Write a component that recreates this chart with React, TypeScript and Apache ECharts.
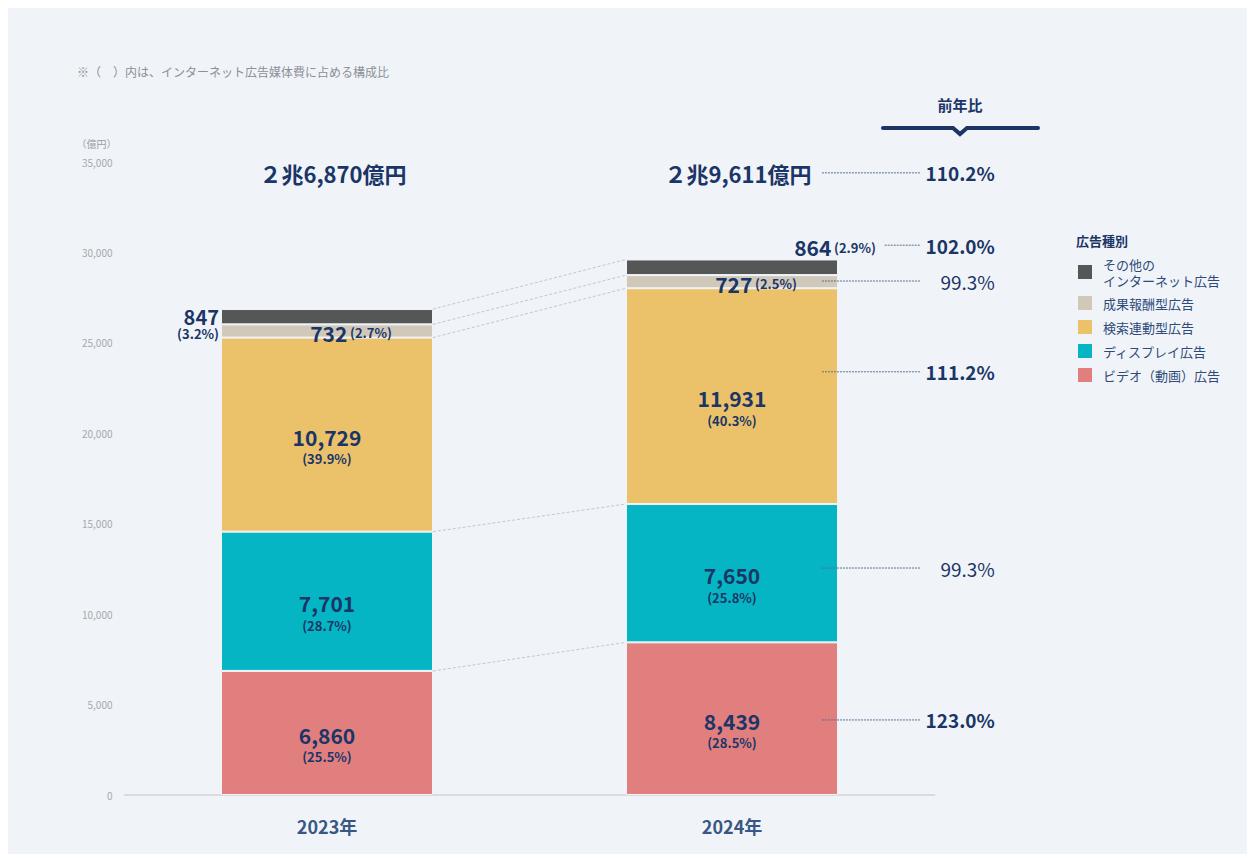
import React, { useEffect, useRef } from "react";
import * as echarts from "echarts";

// ---------- data ----------
const years = ["2023年", "2024年"];
const seriesNames = [
  "ビデオ（動画）広告",
  "ディスプレイ広告",
  "検索連動型広告",
  "成果報酬型広告",
  "その他のインターネット広告",
];
const video = [6860, 8439];
const display = [7701, 7650];
const search = [10729, 11931];
const performance = [732, 727];
const other = [847, 864];

const videoShare = ["25.5%", "28.5%"];
const displayShare = ["28.7%", "25.8%"];
const searchShare = ["39.9%", "40.3%"];
const performanceShare = ["2.7%", "2.5%"];
const otherShare = ["3.2%", "2.9%"];

const totalLabels = ["２兆6,870億円", "２兆9,611億円"];
// order: video, display, search, performance, other, total
const yoyLabels = ["123.0%", "99.3%", "111.2%", "99.3%", "102.0%", "110.2%"];
const yoyBold = [true, false, true, false, true, true];

// ---------- layout constants ----------
const NAVY = "#1b3567";
const FONT = "Noto Sans CJK JP";
const colors = ["#e07f7e", "#05b5c4", "#ebc26a", "#d0c9b9", "#555656"];
const BAR_HALF = 106 / 405;
const EDGE_2023_R = 0.5 + BAR_HALF;
const EDGE_2024_L = 1.5 - BAR_HALF;
const yoyAnchorY = [4150, 12550, 23400, 28420, 30400, 34400];
const yoyLineStart = [1.722, 1.722, 1.722, 1.722, 1.877, 1.722];
const YOY_LINE_END = 1.964;
const YOY_TEXT_X = 2.149;
const TOTAL_LABEL_Y = 34400;

const fmt = (v: number) => v.toLocaleString("en-US");

const rich = {
  v: { fontSize: 21, fontWeight: "bold", color: NAVY, lineHeight: 24, fontFamily: FONT },
  p: { fontSize: 13, fontWeight: "bold", color: NAVY, lineHeight: 20, fontFamily: FONT },
  vs: { fontSize: 20, fontWeight: "bold", color: NAVY, lineHeight: 20, fontFamily: FONT },
  ps: { fontSize: 13, fontWeight: "bold", color: NAVY, lineHeight: 15, fontFamily: FONT },
};

const bigLabel = (v: number, share: string) => ({
  show: true,
  position: "inside",
  offset: [0, 12],
  formatter: `{v|${fmt(v)}}\n{p|(${share})}`,
  rich,
});

const inlineLabel = (v: number, share: string, extra: any) => ({
  show: true,
  formatter: `{v|${fmt(v)}} {p|(${share})}`,
  rich,
  ...extra,
});

export default function App() {
  const ref = useRef<HTMLDivElement>(null);

  useEffect(() => {
    if (!ref.current) return;
    const chart = echarts.init(ref.current, null, { renderer: "svg" });

    const stacks = [video, display, search, performance, other];
    const cum: number[][] = [];
    let acc = [0, 0];
    stacks.forEach((s) => {
      acc = [acc[0] + s[0], acc[1] + s[1]];
      cum.push(acc.slice());
    });

    const barData = [
      video.map((v, i) => ({ value: v, label: bigLabel(v, videoShare[i]) })),
      display.map((v, i) => ({ value: v, label: bigLabel(v, displayShare[i]) })),
      search.map((v, i) => ({ value: v, label: bigLabel(v, searchShare[i]) })),
      performance.map((v, i) => ({
        value: v,
        label: inlineLabel(v, performanceShare[i], { position: "inside", offset: [24, 2] }),
      })),
      [
        {
          value: other[0],
          label: {
            show: true,
            position: "left",
            distance: 2,
            offset: [0, 7],
            formatter: `{vs|${fmt(other[0])}}\n{ps|(${otherShare[0]})}`,
            rich,
          },
        },
        {
          value: other[1],
          label: inlineLabel(other[1], otherShare[1], { position: "top", distance: 0, offset: [103, 0] }),
        },
      ],
    ];

    const barSeries = seriesNames.map((name, k) => ({
      name,
      type: "bar",
      stack: "total",
      barWidth: 212,
      xAxisIndex: 0,
      yAxisIndex: 0,
      itemStyle: { color: colors[k], borderColor: "#f0f4f8", borderWidth: 1 },
      data: barData[k],
      z: 2,
    }));

    const connectorData = cum.map((c) => [EDGE_2023_R, c[0], EDGE_2024_L, c[1]]);
    const yoyData = yoyAnchorY.map((y, i) => [yoyLineStart[i], y, YOY_LINE_END]);
    const totalData = totalLabels.map((_t, i) => [i, TOTAL_LABEL_Y]);

    const option: any = {
      animation: false,
      textStyle: { fontFamily: FONT },
      grid: { left: 116.5, top: 154, width: 810, height: 633, containLabel: false },
      xAxis: [
        {
          type: "category",
          data: years,
          axisLine: { lineStyle: { color: "#d8dce1", width: 2 } },
          axisTick: { show: false },
          axisLabel: { fontSize: 18, fontWeight: "bold", color: "#3a5684", margin: 22, fontFamily: FONT },
          splitLine: { show: false },
        },
        { type: "value", min: 0, max: 2, show: false },
      ],
      yAxis: {
        type: "value",
        min: 0,
        max: 35000,
        interval: 5000,
        name: "（億円）",
        nameLocation: "end",
        nameGap: 14,
        nameTextStyle: { color: "#9a9ea4", fontSize: 10, align: "right", padding: [0, 8, 0, 0], fontFamily: FONT },
        axisLine: { show: false },
        axisTick: { show: false },
        splitLine: { show: false },
        axisLabel: {
          fontSize: 10,
          color: "#a4a8ad",
          margin: 12,
          fontFamily: FONT,
          formatter: (v: number) => fmt(v),
        },
      },
      legend: {
        orient: "vertical",
        left: 1068,
        top: 248,
        padding: 0,
        itemWidth: 16,
        itemHeight: 16,
        itemGap: 6,
        icon: "rect",
        data: [...seriesNames].reverse(),
        formatter: (n: string) => (n === seriesNames[4] ? "その他の\nインターネット広告" : n),
        textStyle: { fontSize: 13, color: "#2f4a7a", lineHeight: 16, fontFamily: FONT, padding: [0, 0, 0, 5] },
        selectedMode: false,
      },
      graphic: [
        {
          type: "text",
          left: 69,
          top: 57,
          style: { text: "※（　）内は、インターネット広告媒体費に占める構成比", fontSize: 12, fill: "#8b9097", fontFamily: FONT },
        },
        {
          type: "text",
          x: 952,
          y: 96,
          style: { text: "前年比", fontSize: 15, fontWeight: "bold", fill: NAVY, align: "center", verticalAlign: "middle", fontFamily: FONT },
        },
        {
          type: "polyline",
          shape: { points: [[875, 120], [945, 120], [952, 126], [959, 120], [1030, 120]] },
          style: { stroke: NAVY, lineWidth: 4, fill: "none", lineCap: "round", lineJoin: "miter" },
        },
        {
          type: "text",
          x: 1068,
          y: 232,
          style: { text: "広告種別", fontSize: 13, fontWeight: "bold", fill: NAVY, verticalAlign: "middle", fontFamily: FONT },
        },
      ],
      series: [
        ...barSeries,
        {
          type: "custom",
          xAxisIndex: 0,
          yAxisIndex: 0,
          encode: { x: 0, y: 1 },
          data: totalData,
          clip: false,
          renderItem: (p: any, api: any) => {
            const c = api.coord([api.value(0), api.value(1)]);
            return {
              type: "text",
              x: c[0] + 6,
              y: c[1],
              style: {
                text: totalLabels[p.dataIndex],
                fontSize: 22,
                fontWeight: "bold",
                fill: NAVY,
                align: "center",
                verticalAlign: "middle",
                fontFamily: FONT,
              },
            };
          },
          z: 5,
        },
        {
          type: "custom",
          xAxisIndex: 1,
          yAxisIndex: 0,
          encode: { x: [0, 2], y: [1, 3] },
          data: connectorData,
          renderItem: (_p: any, api: any) => {
            const a = api.coord([api.value(0), api.value(1)]);
            const b = api.coord([api.value(2), api.value(3)]);
            return {
              type: "line",
              shape: { x1: a[0], y1: a[1], x2: b[0], y2: b[1] },
              style: { stroke: "#c4c8cd", lineWidth: 1, lineDash: [3, 2] },
            };
          },
          z: 1,
        },
        {
          type: "custom",
          xAxisIndex: 1,
          yAxisIndex: 0,
          encode: { x: [0, 2], y: 1 },
          data: yoyData,
          clip: false,
          renderItem: (p: any, api: any) => {
            const a = api.coord([api.value(0), api.value(1)]);
            const b = api.coord([api.value(2), api.value(1)]);
            const t = api.coord([YOY_TEXT_X, api.value(1)]);
            const i = p.dataIndex;
            return {
              type: "group",
              children: [
                {
                  type: "line",
                  shape: { x1: a[0], y1: a[1], x2: b[0], y2: b[1] },
                  style: { stroke: "#5a6e92", lineWidth: 1, lineDash: [2, 1] },
                },
                {
                  type: "text",
                  x: t[0],
                  y: t[1],
                  style: {
                    text: yoyLabels[i],
                    fontSize: 19,
                    fontWeight: yoyBold[i] ? "bold" : "normal",
                    fill: NAVY,
                    align: "right",
                    verticalAlign: "middle",
                    fontFamily: FONT,
                  },
                },
              ],
            };
          },
          z: 6,
        },
      ],
    };

    chart.setOption(option);
    return () => chart.dispose();
  }, []);

  return (
    <div
      ref={ref}
      style={{ width: 1247, height: 846, background: "#f0f4f8" }}
    />
  );
}
